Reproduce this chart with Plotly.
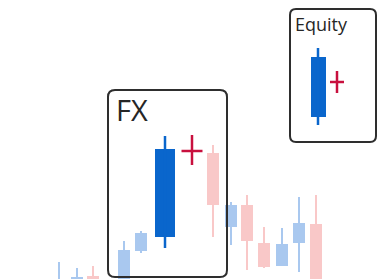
import plotly.graph_objects as go

# ---- data ----
# background candles: position, open, high, low, close
bg_x     = [59, 77, 93, 124, 141, 213, 231, 247, 264, 282, 299, 316]
bg_open  = [89, 87, 103, 89, 128, 226, 152, 174, 136, 113, 136, 155]
bg_high  = [117, 111, 113, 138, 148, 234, 177, 184, 152, 151, 182, 184]
bg_low   = [79, 79, 79, 79, 126, 142, 134, 109, 111, 113, 107, 69]
bg_close = [94, 102, 87, 129, 146, 174, 174, 138, 112, 135, 156, 79]

# highlighted candles (FX, Equity)
hl_labels = ["FX", "Equity"]
hl_x     = [165, 318]
hl_open  = [142, 262]
hl_high  = [243, 331]
hl_low   = [131, 254]
hl_close = [230, 322]

# next-value markers (crosses)
cross_x     = [192, 337]
cross_level = [228, 297]
cross_low   = [214, 286]
cross_high  = [244, 308]

# ---- styles ----
UP_LIGHT = "#a9c8ef"
DN_LIGHT = "#f9c8c8"
UP_DARK = "#0a66cc"
CROSS = "#c8103e"
BOX = "#2e2e2e"

fig = go.Figure()

def add_candles(xs, o, h, l, c, width, wick_w, up, dn):
    for i in range(len(xs)):
        col = up if c[i] >= o[i] else dn
        fig.add_trace(go.Scatter(x=[xs[i], xs[i]], y=[l[i], h[i]], mode="lines",
                                 line=dict(color=col, width=wick_w), hoverinfo="skip",
                                 showlegend=False))
        fig.add_trace(go.Bar(x=[xs[i]], y=[abs(c[i] - o[i])], base=[min(o[i], c[i])],
                             width=width, marker=dict(color=col, line=dict(width=0)),
                             showlegend=False, hoverinfo="skip"))

add_candles(bg_x, bg_open, bg_high, bg_low, bg_close, 12, 2, UP_LIGHT, DN_LIGHT)
add_candles(hl_x[:1], hl_open[:1], hl_high[:1], hl_low[:1], hl_close[:1], 20, 2.5, UP_DARK, UP_DARK)
add_candles(hl_x[1:], hl_open[1:], hl_high[1:], hl_low[1:], hl_close[1:], 15, 2.5, UP_DARK, UP_DARK)

cross_half = [10.5, 7]
for i in range(len(cross_x)):
    fig.add_trace(go.Scatter(
        x=[cross_x[i] - cross_half[i], cross_x[i] + cross_half[i], None, cross_x[i], cross_x[i]],
        y=[cross_level[i], cross_level[i], None, cross_low[i], cross_high[i]],
        mode="lines", line=dict(color=CROSS, width=2.5), hoverinfo="skip", showlegend=False))

def rounded(x0, y0, x1, y1, r):
    return (f"M {x0+r} {y0} L {x1-r} {y0} Q {x1} {y0} {x1} {y0+r} L {x1} {y1-r} "
            f"Q {x1} {y1} {x1-r} {y1} L {x0+r} {y1} Q {x0} {y1} {x0} {y1-r} "
            f"L {x0} {y0+r} Q {x0} {y0} {x0+r} {y0} Z")

fig.add_shape(type="path", path=rounded(108, 102, 227, 289, 7), xref="x", yref="y",
              line=dict(color=BOX, width=2))
fig.add_shape(type="path", path=rounded(290, 237, 376, 370, 6), xref="x", yref="y",
              line=dict(color=BOX, width=2))

fig.add_annotation(x=114, y=291, xref="x", yref="y", text=hl_labels[0], showarrow=False,
                   xanchor="left", yanchor="top", font=dict(family="Open Sans", size=29, color="#262626"))
fig.add_annotation(x=293, y=369, xref="x", yref="y", text=hl_labels[1], showarrow=False,
                   xanchor="left", yanchor="top", font=dict(family="Open Sans", size=18, color="#262626"))

fig.update_layout(
    width=383, height=279, margin=dict(l=0, r=0, t=0, b=0),
    paper_bgcolor="white", plot_bgcolor="white", barmode="overlay", bargap=0,
    xaxis=dict(range=[0, 383], visible=False, fixedrange=True),
    yaxis=dict(range=[100, 379], visible=False, fixedrange=True),
)
fig.write_html("out.html", config={"displayModeBar": False},
               post_script="document.body.style.margin='0';document.body.style.overflow='hidden';")
